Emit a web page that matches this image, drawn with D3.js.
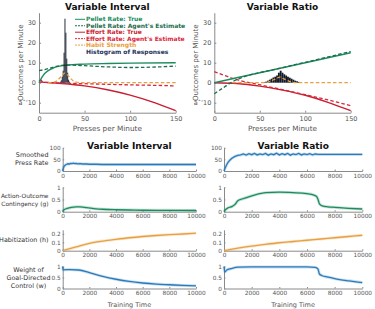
<!DOCTYPE html>
<html>
<head>
<style>
body { margin: 0; background: #fff; }
text { font-family: "DejaVu Sans", Verdana, sans-serif; }
.tick text { fill: #555; }
.domain, .tick line { stroke: #8a8a8a; }
.title { font-weight: bold; fill: #111; }
.axlabel { fill: #555; }
.rowlabel { fill: #333; }
.legend text { font-weight: bold; }
</style>
</head>
<body>
<div id="chart"></div>
<script src="https://cdn.jsdelivr.net/npm/d3@7"></script>
<script>
var W = 375, H = 309;

// ---- top panels: outcomes vs presses per minute ----
var pelletTrueVI = [[0,0],[3,2.5],[6,4.5],[10,6],[15,7.2],[20,8],[30,8.8],[50,9.3],[75,9.6],[100,9.8],[150,10]];
var pelletEstVI  = [[0,6],[10,7],[20,8.3],[30,8.8],[50,8.5],[75,7.9],[100,7.6],[125,7.8],[150,8.3]];
var effortTrueVI = [[0,0.8],[2,1.2],[4,0.3],[10,0.1],[25,-0.4],[50,-1.6],[75,-3.5],[100,-6.2],[125,-9.7],[150,-14]];
var effortEstVI  = [[0,0.3],[25,-0.2],[50,-0.5],[75,-0.8],[100,-1.1],[125,-1.3],[150,-1.6]];
var habitVI      = [[10,0],[18,0.5],[22,2],[26,4],[28,4.8],[31,4],[35,2],[39,0.5],[45,0],[150,0]];
var histBinsVI   = [23,24,25,26,27,28,29,30,31,32,33];
var histCountsVI = [0.5,1.2,3,6,15,32,25,12,5,1.5,0.5];

var pelletTrueVR = [[0,0],[50,5],[100,10],[150,15]];
var pelletEstVR  = [[0,-5.5],[10,-2.5],[20,0.5],[30,2.5],[40,4],[60,6],[100,10.2],[150,15.6]];
var effortTrueVR = [[0,0],[25,-0.4],[50,-1.7],[75,-3.7],[100,-6.3],[125,-9.8],[150,-14]];
var effortEstVR  = [[0,5.5],[12,3.5],[20,2.2],[25,1.5],[50,-1],[75,-3.5],[100,-6],[125,-8.6],[150,-11.5]];
var habitVR      = [[20,0],[55,0],[62,0.8],[68,2],[72,2.8],[76,2],[82,0.8],[90,0],[150,0]];
var histBinsVR   = [54,56,58,60,62,64,66,68,70,72,74,76,78,80,82,84,86,88,90,92,94];
var histCountsVR = [0.3,0.5,1,1.5,2,2.6,3,3.6,5,6,5,4.2,3.6,3,2.5,2,1.5,1,0.7,0.4,0.2];

var topXTicks = [0, 50, 100, 150];
var topYTicks = [-10, 0, 10, 20, 30];

var legendNames = ["Pellet Rate: True", "Pellet Rate: Agent's Estimate", "Effort Rate: True",
                   "Effort Rate: Agent's Estimate", "Habit Strength", "Histogram of Responses"];

// ---- bottom panels: training time series ----
var timeTicks = [0, 2000, 4000, 6000, 8000, 10000];
var pressVI = [[0,0],[50,12],[100,20],[200,26],[300,29],[400,31],[500,30],[600,33],[700,32],[800,34],[900,32],[1000,33],
               [1100,31],[1300,32],[1500,30],[1800,30],[2000,29],[2500,29],[3000,28],[4000,28],[5000,28],[6000,28],
               [7000,28],[8000,28],[9000,28],[10000,28]];
var pressVR = [[0,0],[100,15],[200,28],[300,38],[450,48],[600,56],[800,63],[1000,67],[1200,69],[1400,73],[1600,68],
               [1800,74],[2000,70],[2200,75],[2400,69],[2600,73],[2800,70],[3000,75],[3200,68],[3400,73],[3600,70],
               [3800,76],[4000,69],[4200,74],[4400,70],[4600,75],[4800,68],[5000,73],[5200,70],[5400,75],[5600,69],
               [5800,73],[6000,70],[6200,74],[6400,69],[6600,73],[6800,71],[7000,71],[8000,71],[9000,71],[10000,71]];
var gVI = [[0,0],[100,0.08],[300,0.13],[600,0.17],[1000,0.2],[1300,0.2],[1800,0.17],[2500,0.12],[3000,0.1],
           [4000,0.08],[5000,0.07],[6000,0.06],[8000,0.055],[10000,0.05]];
var gVR = [[0,0],[100,0.08],[300,0.16],[600,0.22],[800,0.3],[1000,0.45],[1300,0.52],[2000,0.65],[2500,0.73],
           [3000,0.78],[4000,0.8],[5000,0.78],[6000,0.74],[6500,0.68],[6700,0.62],[6800,0.5],[6900,0.32],
           [7100,0.24],[7500,0.2],[8000,0.18],[9000,0.14],[10000,0.11]];
var hVI = [[0,0],[1000,0.045],[2000,0.088],[3000,0.115],[4000,0.136],[5000,0.155],[6000,0.17],[7000,0.182],
           [8000,0.192],[9000,0.2],[10000,0.21]];
var hVR = [[0,0],[1000,0.03],[2000,0.055],[3000,0.076],[4000,0.095],[5000,0.11],[6000,0.125],[7000,0.14],
           [8000,0.155],[9000,0.17],[10000,0.185]];
var wVI = [[0,1],[30,0.85],[500,0.86],[1200,0.84],[2000,0.72],[3000,0.55],[4000,0.42],[5000,0.32],[6000,0.25],
           [7000,0.2],[8000,0.17],[9000,0.14],[10000,0.12]];
var wVR = [[0,1],[60,0.75],[200,0.84],[500,0.9],[1000,0.97],[2000,0.98],[4000,0.98],[6000,0.98],[6600,0.96],
           [6800,0.88],[6900,0.66],[7100,0.58],[7500,0.52],[8000,0.45],[9000,0.35],[10000,0.27]];

var rowNames = [["Smoothed", "Press Rate"], ["Action-Outcome", "Contingency (g)"], ["Habitization (h)"],
                ["Weight of", "Goal-Directed", "Control (w)"]];
var rowDomains = [[0, 100], [0, 1], [0, 0.25], [0, 1]];
var rowTicks = [[0, 50, 100], [0, 0.5, 1], [0, 0.1, 0.2], [0, 0.5, 1]];
var rowTickFmt = [d3.format("d"), d3.format("~g"), d3.format("~g"), d3.format("~g")];

var GREEN = "#1c8c5e", RED = "#c81e32", RED2 = "#d8283c", ORANGE = "#e8a040", NAVY = "#24345a", BLUE = "#2a7bbb";

var svg = d3.select("#chart").append("svg").attr("width", W).attr("height", H);

function drawTop(x0, x1, title, sets) {
    var x = d3.scaleLinear().domain([0, 150]).range([x0, x1]);
    var y = d3.scaleLinear().domain([-15, 35]).range([112.7, 12.7]);
    var g = svg.append("g");
    g.append("g").attr("transform", "translate(0," + y(-15) + ")")
        .call(d3.axisBottom(x).tickValues(topXTicks).tickSizeInner(-2).tickSizeOuter(0).tickPadding(3.5))
        .selectAll("text").style("font-size", "6.5px");
    g.append("g").attr("transform", "translate(" + x0 + ",0)")
        .call(d3.axisLeft(y).tickValues(topYTicks).tickSizeInner(-2).tickSizeOuter(0).tickPadding(3))
        .selectAll("text").style("font-size", "6.5px");
    var line = d3.line().x(function(d) { return x(d[0]); }).y(function(d) { return y(d[1]); })
        .curve(d3.curveMonotoneX);
    function path(data, color, dash, wdt) {
        g.append("path").datum(data).attr("d", line).attr("fill", "none")
            .attr("stroke", color).attr("stroke-width", wdt || 1.3)
            .attr("stroke-dasharray", dash ? "3.5,2.2" : null);
    }
    path(sets.effortTrue, RED, false, 1.4);
    path(sets.effortEst, RED2, true);
    path(sets.pelletTrue, GREEN, false, 1.4);
    path(sets.pelletEst, "#1e6e4e", true);
    g.selectAll("rect.hist").data(sets.bins).enter().append("rect")
        .attr("class", "hist")
        .attr("x", function(d) { return x(d); })
        .attr("width", function(d) { return x(d + sets.binW) - x(d); })
        .attr("y", function(d, i) { return y(sets.counts[i]); })
        .attr("height", function(d, i) { return y(0) - y(sets.counts[i]); })
        .attr("fill", "#121a2a");
    path(sets.habit, ORANGE, true);
    g.append("text").attr("class", "title").attr("x", (x0 + x1) / 2).attr("y", 10)
        .attr("text-anchor", "middle").style("font-size", "9px").text(title);
    g.append("text").attr("class", "axlabel").attr("x", (x0 + x1) / 2).attr("y", 131)
        .attr("text-anchor", "middle").style("font-size", "7.3px").text("Presses per Minute");
    g.append("text").attr("class", "axlabel")
        .attr("transform", "translate(" + (x0 - 16) + "," + y(10) + ") rotate(-90)")
        .attr("text-anchor", "middle").style("font-size", "7.1px").text("Outcomes per Minute");
    return g;
}

var gVIplot = drawTop(39, 175.7, "Variable Interval", {
    pelletTrue: pelletTrueVI, pelletEst: pelletEstVI, effortTrue: effortTrueVI, effortEst: effortEstVI,
    habit: habitVI, bins: histBinsVI, counts: histCountsVI, binW: 1 });
drawTop(214.3, 350.7, "Variable Ratio", {
    pelletTrue: pelletTrueVR, pelletEst: pelletEstVR, effortTrue: effortTrueVR, effortEst: effortEstVR,
    habit: habitVR, bins: histBinsVR, counts: histCountsVR, binW: 2 });

// legend inside the VI panel
var legColors = [GREEN, "#1e6e4e", RED, RED2, ORANGE, NAVY];
var legDash = [false, true, false, true, true, null];
var leg = gVIplot.append("g").attr("class", "legend");
legendNames.forEach(function(name, i) {
    var yy = 19.3 + i * 6.45;
    if (legDash[i] !== null) {
        leg.append("line").attr("x1", 75).attr("x2", 85).attr("y1", yy).attr("y2", yy)
            .attr("stroke", legColors[i]).attr("stroke-width", 1)
            .attr("stroke-dasharray", legDash[i] ? "2,1" : null);
    }
    leg.append("text").attr("x", 86).attr("y", yy + 2.1).attr("fill", legColors[i])
        .style("font-size", "6px").text(name);
});

// bottom panels
var rowRanges = [[171, 147.7], [211.7, 187.3], [250.7, 229.8], [288.5, 266.5]];
var cols = [{x0: 62.7, x1: 196, title: "Variable Interval", series: [pressVI, gVI, hVI, wVI]},
            {x0: 224, x1: 362.3, title: "Variable Ratio", series: [pressVR, gVR, hVR, wVR]}];
var rowColors = [BLUE, GREEN, ORANGE, BLUE];

cols.forEach(function(c, ci) {
    var x = d3.scaleLinear().domain([0, 10000]).range([c.x0, c.x1]);
    rowDomains.forEach(function(dom, ri) {
        var y = d3.scaleLinear().domain(dom).range(rowRanges[ri]);
        var g = svg.append("g");
        g.append("g").attr("transform", "translate(0," + rowRanges[ri][0] + ")")
            .call(d3.axisBottom(x).tickValues(timeTicks).tickFormat(d3.format("d"))
                .tickSizeInner(-1.5).tickSizeOuter(0).tickPadding(2.5))
            .selectAll("text").style("font-size", "5.8px");
        g.append("g").attr("transform", "translate(" + c.x0 + ",0)")
            .call(d3.axisLeft(y).tickValues(rowTicks[ri]).tickFormat(rowTickFmt[ri])
                .tickSizeInner(-1.5).tickSizeOuter(0).tickPadding(2))
            .selectAll("text").style("font-size", "5.8px");
        var line = d3.line().x(function(d) { return x(d[0]); }).y(function(d) { return y(d[1]); })
            .curve(ri === 0 ? d3.curveLinear : d3.curveMonotoneX);
        g.append("path").datum(c.series[ri]).attr("d", line).attr("fill", "none")
            .attr("stroke", rowColors[ri]).attr("stroke-opacity", 0.25).attr("stroke-width", 3);
        g.append("path").datum(c.series[ri]).attr("d", line).attr("fill", "none")
            .attr("stroke", rowColors[ri]).attr("stroke-width", 1.3);
        if (ci === 0) {
            var names = rowNames[ri];
            var mid = (rowRanges[ri][0] + rowRanges[ri][1]) / 2;
            var lab = g.append("text").attr("class", "rowlabel")
                .style("font-size", ri === 1 ? "5.9px" : "6.4px");
            if (names.length === 3) {
                lab.attr("text-anchor", "middle");
                names.forEach(function(n, k) {
                    lab.append("tspan").attr("x", 28.5).attr("y", mid - 5.5 + k * 8).text(n);
                });
            } else {
                lab.attr("text-anchor", "end");
                names.forEach(function(n, k) {
                    lab.append("tspan").attr("x", 48.5).attr("y", mid + 2 - (names.length - 1) * 4 + k * 8).text(n);
                });
            }
        }
    });
    svg.append("text").attr("class", "title").attr("x", (c.x0 + c.x1) / 2).attr("y", 148.5)
        .attr("text-anchor", "middle").style("font-size", "9px").text(c.title);
    svg.append("text").attr("class", "axlabel").attr("x", (c.x0 + c.x1) / 2).attr("y", 306.5)
        .attr("text-anchor", "middle").style("font-size", "6.5px").text("Training Time");
});
</script>
</body>
</html>
